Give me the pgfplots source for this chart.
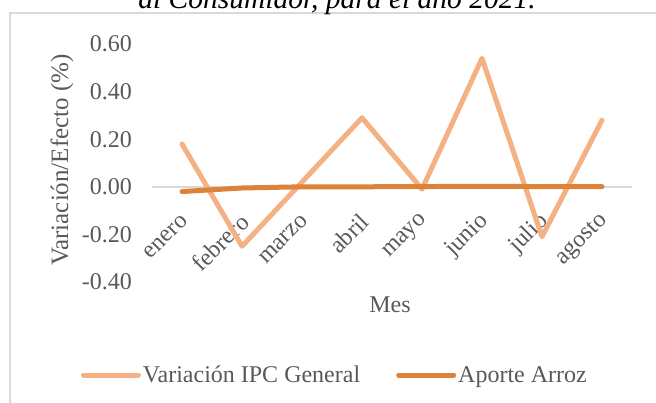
\documentclass[border=0pt]{standalone}
\usepackage{fontspec}
\setmainfont{Liberation Serif}
\usepackage{pgfplots}
\pgfplotsset{compat=1.18}
\definecolor{ipc}{HTML}{F4B183}
\definecolor{arroz}{HTML}{DD8339}
\definecolor{txt}{HTML}{595959}
\definecolor{gridc}{HTML}{D9D9D9}
\begin{document}
\begin{tikzpicture}
\useasboundingbox (0bp,0bp) rectangle (656bp,403bp);
\clip (0bp,0bp) rectangle (656bp,403bp);
\draw[gridc, line width=1.5bp] (10bp,-50bp) rectangle (720bp,390bp);
\node[font=\fontsize{29.5bp}{34bp}\selectfont\itshape, anchor=base, inner sep=0pt] at (337bp,394bp) {al Consumidor, para el año 2021.};
\begin{axis}[
  at={(152bp,121bp)}, anchor=south west,
  scale only axis, width=480bp, height=238bp,
  xmin=-0.5, xmax=7.5, ymin=-0.4, ymax=0.6,
  axis x line*=middle, axis y line*=left,
  x axis line style={gridc, line width=1.5bp},
  y axis line style={draw=none},
  hide obscured x ticks=false, hide obscured y ticks=false,
  major tick length=0pt,
  xtick={0,1,2,3,4,5,6,7},
  xticklabels={enero,febrero,marzo,abril,mayo,junio,julio,agosto},
  ytick={-0.4,-0.2,0,0.2,0.4,0.6},
  yticklabel={\pgfmathprintnumber[fixed,fixed zerofill,precision=2,assume math mode=true]{\tick}},
  tick label style={font=\fontsize{24bp}{28bp}\selectfont, text=txt},
  xticklabel style={rotate=45, anchor=east, inner sep=0pt, xshift=-20bp, yshift=-24bp},
  yticklabel style={anchor=east, inner sep=0pt, xshift=-20bp},
  legend columns=2,
  legend cell align=left,
  legend style={at={(axis description cs:0.381,-0.391)}, anchor=center, draw=none, fill=none,
    font=\fontsize{24bp}{28bp}\selectfont, text=txt,
    /tikz/every even column/.append style={column sep=34bp},
    nodes={inner sep=2bp}},
  legend image code/.code={\draw[#1] (0bp,0bp) -- (55bp,0bp);},
  clip=false,
]
\addplot[ipc, line width=5bp, line cap=round, line join=round] coordinates {
 (0,0.18) (1,-0.25) (2,0.02) (3,0.29) (4,-0.01) (5,0.54) (6,-0.21) (7,0.28)};
\addlegendentry{Variación IPC General}
\addplot[arroz, line width=5bp, line cap=round, line join=round] coordinates {
 (0,-0.02) (1,-0.005) (2,0.0) (3,0.0) (4,0.001) (5,0.002) (6,0.001) (7,0.001)};
\addlegendentry{Aporte Arroz}
\end{axis}
\node[rotate=90, font=\fontsize{25bp}{29bp}\selectfont, text=txt] at (62bp,243bp) {Variación/Efecto (\%)};
\node[font=\fontsize{24bp}{28bp}\selectfont, text=txt] at (390bp,98bp) {Mes};
\end{tikzpicture}
\end{document}
